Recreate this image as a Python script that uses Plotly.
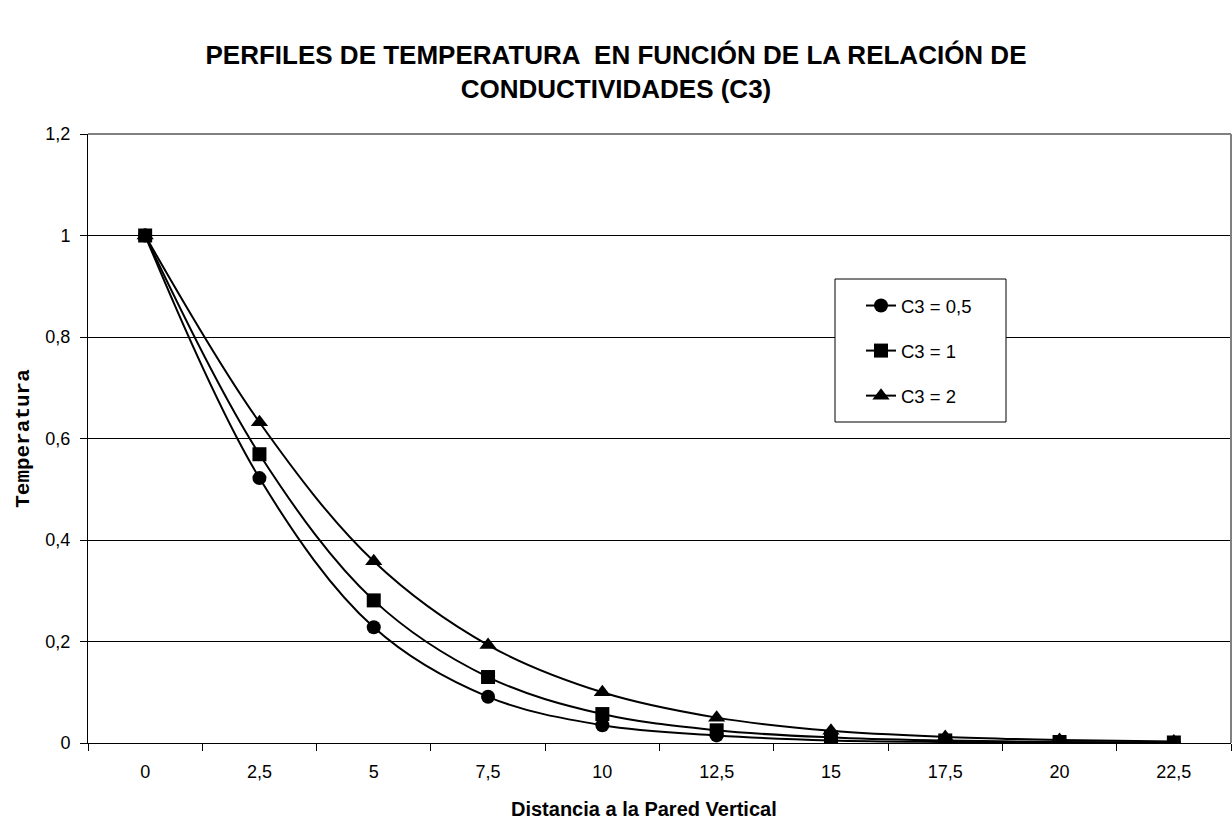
import plotly.graph_objects as go

categories = ["0", "2,5", "5", "7,5", "10", "12,5", "15", "17,5", "20", "22,5"]
c3_05 = [1.0, 0.522, 0.228, 0.091, 0.035, 0.015, 0.005, 0.002, 0.001, 0.0]
c3_1 = [1.0, 0.569, 0.281, 0.130, 0.057, 0.025, 0.011, 0.005, 0.002, 0.001]
c3_2 = [1.0, 0.632, 0.358, 0.193, 0.100, 0.050, 0.024, 0.012, 0.006, 0.003]
series_names = ["C3 = 0,5", "C3 = 1", "C3 = 2"]
y_ticks = [0, 0.2, 0.4, 0.6, 0.8, 1.0, 1.2]
y_tick_labels = ["0", "0,2", "0,4", "0,6", "0,8", "1", "1,2"]

FONT = "Liberation Sans, Arial, sans-serif"
symbols = ["circle", "square", "triangle-up"]
sizes = [14, 14, 15]

fig = go.Figure()
for i, (name, vals, sym, sz) in enumerate(zip(series_names, [c3_05, c3_1, c3_2], symbols, sizes)):
    fig.add_trace(go.Scatter(
        x=categories, y=vals, name=name, mode="lines+markers",
        line=dict(color="black", width=2, shape="spline", smoothing=1),
        marker=dict(symbol=sym, size=sz, color="black"),
        legendgroup=f"g{i}",
    ))

# plot area in pixels: x 88..1231, y 134..743
L, R, T, B = 88, 1231, 134, 743
W, H = R - L, B - T

def px_x(x):
    return (x - L) / W

def px_y(y):
    return (B - y) / H

fig.update_layout(
    width=1232, height=821,
    margin=dict(l=L, r=1232 - R, t=T, b=821 - B),
    paper_bgcolor="white", plot_bgcolor="white",
    title=dict(
        text="<b>PERFILES DE TEMPERATURA  EN FUNCIÓN DE LA RELACIÓN DE<br>CONDUCTIVIDADES (C3)</b>",
        x=0.5, xanchor="center", y=1 - 64 / 821, yanchor="middle",
        font=dict(family=FONT, size=26, color="black"),
    ),
    showlegend=True,
    legend=dict(
        x=px_x(861), y=px_y(287), xanchor="left", yanchor="top",
        bgcolor="rgba(0,0,0,0)", borderwidth=0,
        font=dict(family=FONT, size=18.5, color="black"),
        tracegroupgap=18, traceorder="grouped",
    ),
    xaxis=dict(
        type="category", categoryorder="array", categoryarray=categories,
        range=[-0.5, 9.5],
        showline=True, linecolor="black", linewidth=1, mirror=False,
        ticks="outside", ticklen=7, tickcolor="black", tickson="boundaries",
        ticklabelstandoff=12,
        showgrid=False, zeroline=False,
        tickfont=dict(family=FONT, size=18, color="black"),
    ),
    yaxis=dict(
        range=[0, 1.2], tickvals=y_ticks, ticktext=y_tick_labels,
        showline=True, linecolor="black", linewidth=1,
        ticks="outside", ticklen=7, tickcolor="black",
        ticklabelstandoff=6,
        showgrid=True, gridcolor="black", gridwidth=1, zeroline=False,
        tickfont=dict(family=FONT, size=18, color="black"),
        title=dict(text="<b>Temperatura</b>",
                   font=dict(family="Liberation Mono, Courier New, monospace", size=21, color="black"),
                   standoff=10),
    ),
    annotations=[
        dict(text="<b>Distancia a la Pared Vertical</b>", xref="paper", yref="paper",
             x=px_x(644), y=px_y(809), xanchor="center", yanchor="middle",
             showarrow=False, font=dict(family=FONT, size=20, color="black")),
    ],
    shapes=[
        dict(type="line", xref="paper", yref="paper", x0=0, x1=1, y0=1, y1=1,
             line=dict(color="#808080", width=2)),
        dict(type="line", xref="paper", yref="paper", x0=1, x1=1, y0=0, y1=1,
             line=dict(color="#808080", width=2)),
        # legend frame
        dict(type="rect", xref="paper", yref="paper",
             x0=px_x(835), x1=px_x(1006), y0=px_y(422), y1=px_y(279),
             line=dict(color="black", width=1), fillcolor="white", layer="above"),
    ],
)

fig.write_html("out.html")
